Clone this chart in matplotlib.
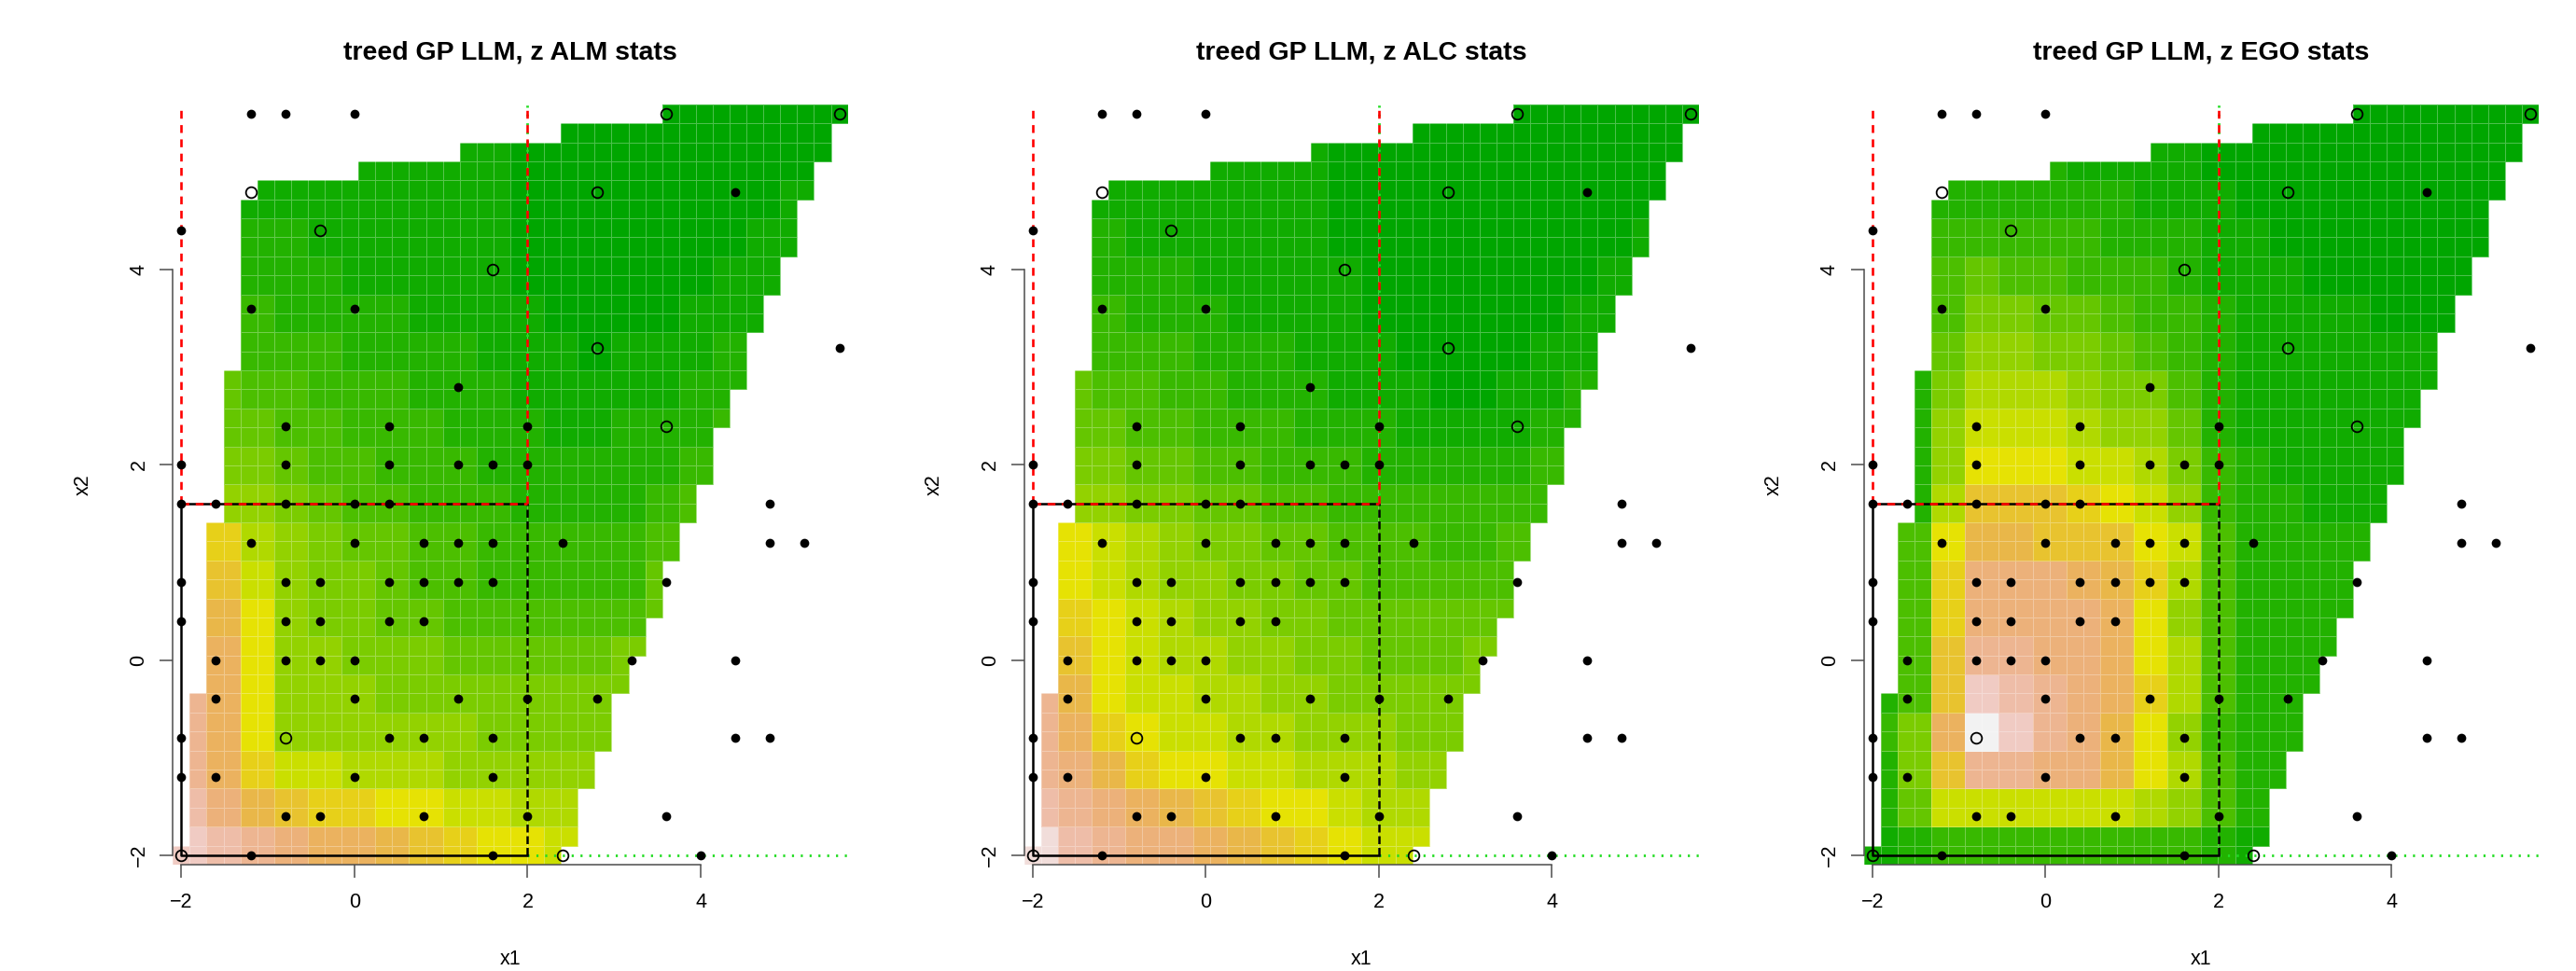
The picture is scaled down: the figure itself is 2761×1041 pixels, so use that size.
import numpy as np
import matplotlib
matplotlib.use("Agg")
import matplotlib.pyplot as plt
from matplotlib.colors import ListedColormap, hsv_to_rgb

plt.rcParams['font.family'] = ['Liberation Sans', 'DejaVu Sans']

titles = ["treed GP LLM, z ALM stats",
          "treed GP LLM, z ALC stats",
          "treed GP LLM, z EGO stats"]

# observed inputs (filled dots)
dot_x1 = [-1.2, -0.8, 0.0, 4.4, -2.0, -1.2, 0.0, 5.6, 1.2,
          -0.8, 0.4, 2.0, -2.0, -0.8, 0.4, 1.2, 1.6, 2.0,
          -2.0, -1.6, -0.8, 0.0, 0.4, 4.8,
          -1.2, 0.0, 0.8, 1.2, 1.6, 2.4, 4.8, 5.2,
          -2.0, -0.8, -0.4, 0.4, 0.8, 1.2, 1.6, 3.6,
          -2.0, -0.8, -0.4, 0.4, 0.8,
          -1.6, -0.8, -0.4, 0.0, 3.2, 4.4,
          -1.6, 0.0, 1.2, 2.0, 2.8,
          -2.0, 0.4, 0.8, 1.6, 4.4, 4.8,
          -2.0, -1.6, 0.0, 1.6,
          -0.8, -0.4, 0.8, 2.0, 3.6,
          -1.2, 1.6, 4.0]
dot_x2 = [5.6, 5.6, 5.6, 4.8, 4.4, 3.6, 3.6, 3.2, 2.8,
          2.4, 2.4, 2.4, 2.0, 2.0, 2.0, 2.0, 2.0, 2.0,
          1.6, 1.6, 1.6, 1.6, 1.6, 1.6,
          1.2, 1.2, 1.2, 1.2, 1.2, 1.2, 1.2, 1.2,
          0.8, 0.8, 0.8, 0.8, 0.8, 0.8, 0.8, 0.8,
          0.4, 0.4, 0.4, 0.4, 0.4,
          0.0, 0.0, 0.0, 0.0, 0.0, 0.0,
          -0.4, -0.4, -0.4, -0.4, -0.4,
          -0.8, -0.8, -0.8, -0.8, -0.8, -0.8,
          -1.2, -1.2, -1.2, -1.2,
          -1.6, -1.6, -1.6, -1.6, -1.6,
          -2.0, -2.0, -2.0]

# candidate locations (open circles)
cand_x1 = [-2.0, 2.4, -0.8, 3.6, 2.8, 1.6, -0.4, -1.2, 2.8, 3.6, 5.6]
cand_x2 = [-2.0, -2.0, -0.8, 2.4, 3.2, 4.0, 4.4, 4.8, 4.8, 5.6, 5.6]

# tree partition box
box_x1 = [-2.0, 2.0]
box_x2 = [-2.0, 1.6]

tick_vals = [-2, 0, 2, 4]

# colour level of each 2x2 block of the 40x40 image (top row first)
# 0 = dark green ... a = yellow ... k = white
LEVELS = "0123456789abcdefghijk"
alm_rows = [
    "...........000000000",
    ".....111110000000000",
    "..11111111000000001",
    "..22111111000000011",
    "..2221111100000011",
    "..3222211110000111",
    "..333222211101112",
    ".5443332221111122",
    ".5544333222112223",
    ".665443332222223",
    ".776544333222234",
    ".b8765544333334",
    ".c9766544333335",
    ".da766554444445",
    ".ea77666555556",
    "gea77766666666",
    "gea7777776666",
    "geb9988877777",
    "hfdcbbaa9988",
    "ihgfeedcbaa9",
]
alc_rows = [
    "...........000000000",
    ".....111100000000000",
    "..11111110000000000",
    "..21111110000000001",
    "..2221111100000001",
    "..3222111100000011",
    "..333222111000011",
    ".5443322211100112",
    ".5544333222111122",
    ".665544333222223",
    ".776655443333333",
    ".a9876655444334",
    ".a9877665544444",
    ".ba987766555555",
    ".ca98877665556",
    "gda99887766666",
    "geba998877766",
    "gfdbaa9988877",
    "hgfedcbaa988",
    "jhgffedcba99",
]
ego_rows = [
    "...........000000000",
    ".....211110000000000",
    "..22222211100000000",
    "..33333222110000000",
    "..4544333211100000",
    "..4665543321111000",
    "..577665432111111",
    ".2688876642111111",
    ".2799987752111111",
    ".27aaa9986321111",
    ".28cccba97322111",
    ".4addccca942222",
    ".4bfffedb842222",
    ".4bffffea742222",
    ".4cggffea84222",
    "24cihgfeb84222",
    "36ekigfda7322",
    "26cggffda8422",
    "259999998742",
    "123333333321",
]
fields = [alm_rows, alc_rows, ego_rows]

# R terrain.colors(128)
n = 128
k = n // 2
hh = np.r_[np.linspace(4/12, 2/12, k), np.linspace(2/12, 0, n - k + 1)[1:]]
ss = np.r_[np.ones(k), np.linspace(1, 0, n - k + 1)[1:]]
vv = np.r_[np.linspace(0.65, 0.9, k), np.linspace(0.9, 0.95, n - k + 1)[1:]]
terrain = ListedColormap(hsv_to_rgb(np.column_stack([hh, ss, vv])))

# 40x40 interpolation grid
step = 7.6 / 39
grid = -2 + step * np.arange(40)
edges = np.append(grid - step / 2, grid[-1] + step / 2)
GX, GY = np.meshgrid(grid, grid)


def cross(o, a, b):
    return (a[0] - o[0]) * (b[1] - o[1]) - (a[1] - o[1]) * (b[0] - o[0])


def convex_hull(xs, ys):
    pts = sorted(set(zip(xs, ys)))

    def half(seq):
        out = []
        for p in seq:
            while len(out) >= 2 and cross(out[-2], out[-1], p) <= 0:
                out.pop()
            out.append(p)
        return out
    lo = half(pts)
    up = half(pts[::-1])
    return lo[:-1] + up[:-1]


hull = convex_hull(cand_x1, cand_x2)
inside = np.ones_like(GX, dtype=bool)
for i in range(len(hull)):
    a = hull[i]
    b = hull[(i + 1) % len(hull)]
    c = (b[0] - a[0]) * (GY - a[1]) - (b[1] - a[1]) * (GX - a[0])
    inside &= c >= -1e-9

fig = plt.figure(figsize=(27.61, 10.41), dpi=100)
lefts = [0.06711, 0.39757, 0.72354]
axw, axh, axb = 0.26197, 0.78300, 0.10961

lo_lim, hi_lim = edges[0], edges[-1]

for left, title, rows in zip(lefts, titles, fields):
    ax = fig.add_axes([left, axb, axw, axh])
    blocks = np.array([[LEVELS.find(ch) for ch in r.ljust(20, '.')] for r in rows[::-1]], float)
    blocks[blocks < 0] = np.nan
    Z = np.repeat(np.repeat(blocks, 2, axis=0), 2, axis=1)
    Z = np.ma.masked_where(~inside | np.isnan(Z), Z)
    ax.pcolormesh(edges, edges, Z, cmap=terrain, vmin=0, vmax=20,
                  edgecolors=(1, 1, 1, 0.3), linewidth=0.7, zorder=1)

    # partition lines
    ax.plot([box_x1[1], hi_lim], [box_x2[0], box_x2[0]], color='#22dd22', lw=2.0,
            dashes=(0.8, 2.6), zorder=3)
    ax.plot([box_x1[1], box_x1[1]], [box_x2[1], hi_lim], color='#22dd22', lw=2.0,
            dashes=(0.8, 2.6), zorder=3)
    ax.plot([box_x1[0], box_x1[0], box_x1[1]], [box_x2[1], box_x2[0], box_x2[0]],
            color='black', lw=1.8, zorder=3)
    ax.plot(box_x1, [box_x2[1], box_x2[1]], color='black', lw=1.8, zorder=3)
    ax.plot([box_x1[1], box_x1[1]], box_x2, color='black', lw=1.8,
            dashes=(3.4, 1.6), zorder=3)
    ax.plot(box_x1, [box_x2[1], box_x2[1]], color='red', lw=1.9,
            dashes=(3.2, 2.6), zorder=3.5)
    for xv in box_x1:
        ax.plot([xv, xv], [box_x2[1], hi_lim], color='red', lw=1.9,
                dashes=(3.2, 2.6), zorder=3.5)

    ax.plot(dot_x1, dot_x2, 'o', color='black', ms=7.0, mew=0, zorder=4)
    ax.plot(cand_x1, cand_x2, 'o', mfc='none', mec='black', ms=8.4, mew=1.3, zorder=4)

    ax.set_xlim(lo_lim, hi_lim)
    ax.set_ylim(lo_lim, hi_lim)
    for s in ['top', 'right']:
        ax.spines[s].set_visible(False)
    for s in ['left', 'bottom']:
        ax.spines[s].set_bounds(-2, 4)
        ax.spines[s].set_color('0.3')
        ax.spines[s].set_linewidth(1.1)
    ax.set_xticks(tick_vals)
    ax.set_yticks(tick_vals)
    ax.tick_params(length=10, width=1.1, color='0.3', labelsize=15.5)
    ax.tick_params(axis='x', pad=12)
    ax.tick_params(axis='y', labelrotation=90, pad=8.6)
    for lab in ax.get_yticklabels():
        lab.set_va('center')

    ax.set_xlabel("x1", fontsize=15.5)
    ax.set_ylabel("x2", fontsize=15.5)
    ax.xaxis.set_label_coords(0.5, -0.125)
    ax.xaxis.label.set_va('center')
    ax.yaxis.set_label_coords(-0.1327, 0.5)
    ax.yaxis.label.set_va('center')
    ax.set_title(title, fontsize=20.5, fontweight='bold', pad=34.7)

fig.savefig("out.png", dpi=100)
